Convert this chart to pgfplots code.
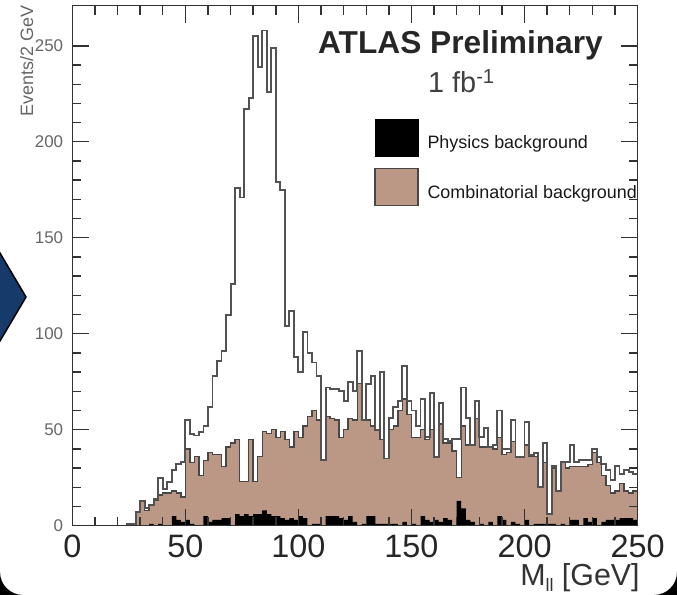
\documentclass[border=0pt]{standalone}
\usepackage{fontspec}
\setmainfont{Liberation Sans}
\usepackage{pgfplots}
\usepackage{pgfplotstable}
\pgfplotsset{compat=1.18}

\definecolor{combtan}{RGB}{186,152,133}
\definecolor{framegray}{RGB}{50,50,50}
\definecolor{slideblue}{RGB}{22,58,105}

% 2 GeV bins: lower edge, total, combinatorial (stacked), physics background
\pgfplotstableread{
x T C P
24 1 1 0
26 1 1 0
28 7 7 0
30 13 13 0
32 9 8 0
34 11 11 1
36 14 13 0
38 25 16 1
40 19 17 0
42 23 17 0
44 29 18 5
46 32 17 3
48 33 15 2
50 55 40 3
52 48 33 1
54 47 36 0
56 49 26 0
58 52 34 5
60 62 38 2
62 78 37 3
64 86 37 3
66 91 31 4
68 110 41 4
70 126 43 0
72 176 45 6
74 171 23 5
76 217 23 6
78 223 45 5
80 255 23 6
82 239 36 6
84 258 49 8
86 226 48 6
88 249 50 5
90 179 46 5
92 175 49 4
94 104 45 3
96 112 41 4
98 88 49 3
100 80 46 5
102 101 52 4
104 90 57 0
106 85 60 1
108 78 55 1
110 34 34 0
112 72 57 5
114 71 56 5
116 71 55 5
118 70 46 4
120 65 50 3
122 75 56 5
124 70 55 2
126 91 74 0
128 55 55 1
130 74 55 5
132 78 52 5
134 50 50 1
136 80 45 1
138 35 35 1
140 56 50 1
142 62 52 1
144 65 60 0
146 83 66 2
148 65 58 0
150 60 46 1
152 52 46 0
154 66 50 5
156 46 45 3
158 69 50 2
160 36 36 3
162 64 53 2
164 45 43 4
166 44 43 3
168 45 39 0
170 45 25 13
172 72 52 9
174 56 42 3
176 42 42 2
178 65 56 0
180 46 41 1
182 51 41 0
184 41 41 2
186 42 40 0
188 60 46 5
190 40 37 3
192 40 38 0
194 55 44 2
196 36 36 1
198 36 36 0
200 54 42 3
202 37 36 0
204 38 36 1
206 20 20 1
208 43 33 1
210 6 6 1
212 31 30 1
214 18 18 0
216 33 33 1
218 33 30 0
220 42 31 3
222 33 31 3
224 34 31 0
226 34 31 4
228 34 32 2
230 40 38 4
232 36 33 0
234 32 26 2
236 29 21 3
238 24 17 3
240 31 18 3
242 27 22 4
244 29 18 4
246 28 17 4
248 27 18 3
250 27 18 3
}\histtab

\begin{document}
\begin{tikzpicture}
\path[use as bounding box] (0bp,0bp) rectangle (677bp,-595bp);

% slide decorations
\fill[slideblue, draw=black, line width=1.5bp] (-3bp,-248bp) -- (26bp,-297bp) -- (-3bp,-346bp) -- cycle;
\fill[black] (0bp,-595bp) -- (0bp,-572bp) arc[start angle=180, end angle=270, radius=23bp] -- cycle;
\fill[black] (677bp,-595bp) -- (677bp,-572bp) arc[start angle=0, end angle=-90, radius=23bp] -- cycle;

\begin{axis}[
  at={(72.3bp,-525.7bp)}, anchor=south west,
  scale only axis, width=565.3bp, height=520bp,
  xmin=0, xmax=250, ymin=0, ymax=270.9,
  axis on top,
  axis line style={framegray, line width=1.4bp},
  tick align=inside, tick pos=both,
  xtick={0,50,...,250}, ytick={0,50,...,250},
  minor x tick num=4, minor y tick num=4,
  major tick length=17bp, minor tick length=9bp,
  every tick/.style={framegray, line width=1.4bp},
  /pgf/number format/assume math mode=true,
  xticklabel style={font=\fontsize{32.5}{32.5}\selectfont, text=black!85, inner sep=0pt, yshift=-9bp},
  yticklabel style={font=\fontsize{17}{17}\selectfont, text=black!60, inner sep=0pt, xshift=-9bp},
  xlabel={M\raisebox{-0.2em}{\fontsize{18}{18}\selectfont ll} [GeV]},
  xlabel style={at={(rel axis cs:1.004,0)}, anchor=base east, inner sep=0pt, yshift=-60bp,
                font=\fontsize{30.5}{30.5}\selectfont, text=black!80},
  ylabel={Events/2 GeV},
  ylabel style={at={(rel axis cs:-0.0925,1)}, anchor=north east, inner sep=0pt,
                font=\fontsize{18}{18}\selectfont, text=black!60},
  legend style={at={(rel axis cs:0.5337,0.7821)}, anchor=north west, draw=none, fill=none,
                inner sep=0pt, outer sep=0pt, row sep=11.5bp,
                font=\fontsize{18}{18}\selectfont, text=black!90,
                nodes={inner sep=0pt}},
  legend cell align=left,
  legend image code/.code={\draw[#1] (0bp,-13bp) rectangle (43bp,24bp); \path (52bp,0bp);},
]

\addlegendimage{fill=black, draw=black}
\addlegendentry{Physics background}
\addlegendimage{fill=combtan, draw=black!72, line width=1.5bp}
\addlegendentry{Combinatorial background}

% combinatorial background (stacked on physics background)
\addplot[const plot mark left, fill=combtan, draw=black!72, line width=1.4bp, forget plot]
  table[x=x, y=C] {\histtab} \closedcycle;
% physics background
\addplot[const plot mark left, fill=black, draw=none, forget plot]
  table[x=x, y=P] {\histtab} \closedcycle;
% total
\addplot[const plot mark left, draw=black!68, line width=1.9bp, forget plot]
  table[x=x, y=T] {\histtab};

\node[anchor=base west, inner sep=0pt, font=\bfseries\fontsize{31.8}{31.8}\selectfont, text=black!85]
  at (rel axis cs:0.4346,0.9085) {ATLAS Preliminary};
\node[anchor=base west, inner sep=0pt, font=\fontsize{29}{29}\selectfont, text=black!75]
  at (rel axis cs:0.629,0.834) {1 fb\textsuperscript{-1}};
\end{axis}
\end{tikzpicture}
\end{document}
